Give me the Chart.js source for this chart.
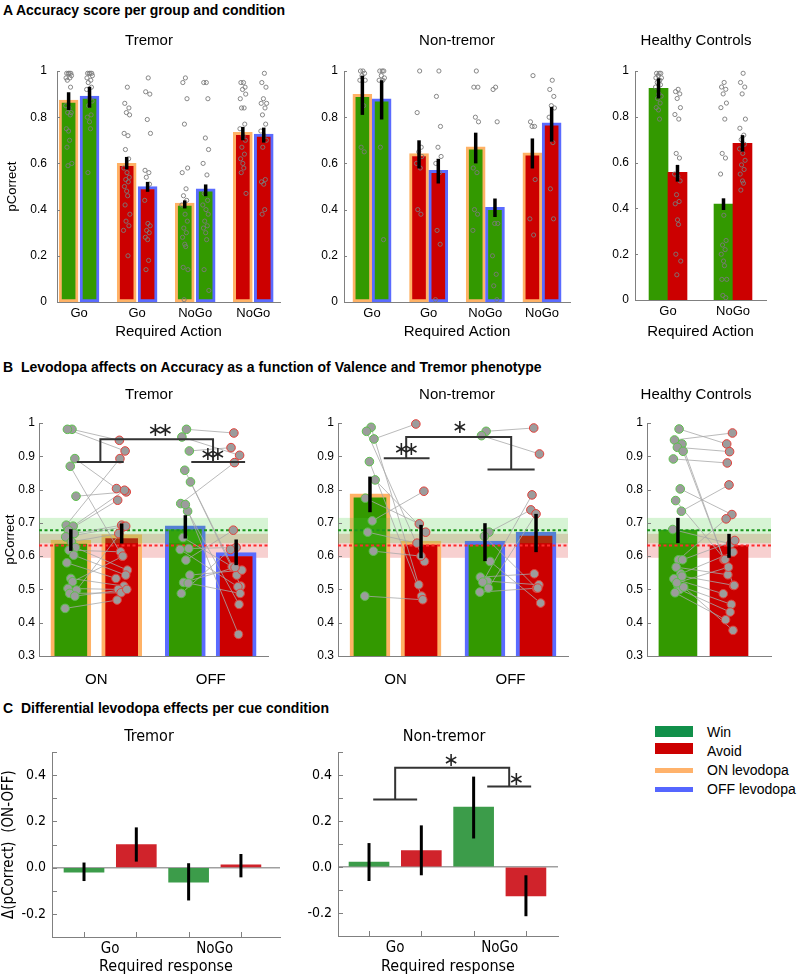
<!DOCTYPE html>
<html lang="en">
<head>
<meta charset="UTF-8">
<title>Accuracy per group and condition</title>
<script src="https://cdn.jsdelivr.net/npm/chart.js"></script>
<style>
  body { margin: 0; background: #fff; font-family: 'Liberation Sans', Arial, sans-serif; }
  #page { position: relative; width: 800px; height: 978px; overflow: hidden; background: #fff; }
  canvas { position: absolute; }
  .sec { position: absolute; left: 3px; font-weight: bold; font-size: 14px; line-height: 16px; white-space: pre; color: #000; }
  .sw { position: absolute; left: 655px; width: 38px; }
  .lt { position: absolute; left: 707px; font-size: 14px; line-height: 16px; color: #000; }
</style>
</head>
<body>
<div id="page">
  <div class="sec" style="top:2px">A Accuracy score per group and condition</div>
  <div class="sec" style="top:359px">B  Levodopa affects on Accuracy as a function of Valence and Tremor phenotype</div>
  <div class="sec" style="top:700px">C  Differential levodopa effects per cue condition</div>

  <canvas id="aTremor"></canvas>
  <canvas id="aNon"></canvas>
  <canvas id="aHC"></canvas>
  <canvas id="bTremor"></canvas>
  <canvas id="bNon"></canvas>
  <canvas id="bHC"></canvas>
  <canvas id="cTremor"></canvas>
  <canvas id="cNon"></canvas>

  <div class="sw" style="top:726px;height:11px;background:#11904a"></div>
  <div class="sw" style="top:743px;height:11px;background:#cc0000"></div>
  <div class="sw" style="top:768px;height:5px;background:#ffb26b"></div>
  <div class="sw" style="top:787px;height:5px;background:#5566ff"></div>
  <div class="lt" style="top:724px">Win</div>
  <div class="lt" style="top:743px">Avoid</div>
  <div class="lt" style="top:762px">ON levodopa</div>
  <div class="lt" style="top:781px">OFF levodopa</div>
</div>

<script>
// ---------- A: accuracy per group and condition ----------
const A_LABELS = ['Go', 'Go', 'NoGo', 'NoGo'];
const A_VALENCE = ['win', 'avoid', 'win', 'avoid'];
const A_HC_LABELS = ['Go', 'NoGo'];

const A_TREMOR_ON = [0.874, 0.600, 0.428, 0.734];
const A_TREMOR_ON_LO = [0.831, 0.574, 0.405, 0.700];
const A_TREMOR_ON_HI = [0.908, 0.628, 0.440, 0.758];
const A_TREMOR_OFF = [0.891, 0.500, 0.490, 0.727];
const A_TREMOR_OFF_LO = [0.841, 0.477, 0.458, 0.690];
const A_TREMOR_OFF_HI = [0.932, 0.520, 0.509, 0.755];

const A_NON_ON = [0.899, 0.643, 0.672, 0.646];
const A_NON_ON_LO = [0.810, 0.578, 0.600, 0.578];
const A_NON_ON_HI = [0.980, 0.700, 0.733, 0.708];
const A_NON_OFF = [0.879, 0.570, 0.410, 0.776];
const A_NON_OFF_LO = [0.790, 0.513, 0.368, 0.694];
const A_NON_OFF_HI = [0.960, 0.620, 0.448, 0.845];

const A_HC_WIN = [0.924, 0.419];
const A_HC_WIN_LO = [0.880, 0.393];
const A_HC_WIN_HI = [0.968, 0.444];
const A_HC_AVOID = [0.557, 0.684];
const A_HC_AVOID_LO = [0.517, 0.648];
const A_HC_AVOID_HI = [0.590, 0.720];

// individual subjects (one list per bar)
const A_TREMOR_ON_SUBJ = [
  [0.99,0.99,0.99,0.99,0.98,0.97,0.97,0.96,0.93,0.85,0.84,0.82,0.82,0.81,0.75,0.74,0.70,0.67,0.60,0.59],
  [0.93,0.86,0.84,0.82,0.81,0.73,0.72,0.66,0.62,0.58,0.56,0.54,0.53,0.52,0.50,0.48,0.46,0.42,0.38,0.35,0.33,0.31,0.20],
  [0.97,0.95,0.88,0.77,0.58,0.56,0.49,0.46,0.44,0.42,0.38,0.35,0.32,0.30,0.28,0.25,0.24,0.15,0.14,0.01],
  [0.95,0.95,0.93,0.92,0.90,0.88,0.84,0.84,0.77,0.75,0.72,0.70,0.67,0.64,0.62,0.60,0.58,0.56,0.47]
];
const A_TREMOR_OFF_SUBJ = [
  [0.99,0.99,0.99,0.99,0.98,0.97,0.96,0.95,0.93,0.92,0.88,0.87,0.85,0.81,0.80,0.78,0.75,0.56],
  [0.97,0.91,0.90,0.79,0.73,0.57,0.56,0.54,0.51,0.44,0.34,0.33,0.31,0.30,0.28,0.27,0.18,0.14],
  [0.95,0.95,0.88,0.71,0.66,0.60,0.55,0.47,0.44,0.42,0.40,0.38,0.35,0.33,0.32,0.30,0.27,0.14,0.05],
  [0.99,0.95,0.93,0.88,0.86,0.86,0.84,0.81,0.77,0.74,0.72,0.70,0.67,0.53,0.52,0.51,0.40,0.38]
];
const A_NON_ON_SUBJ = [
  [1.0,1.0,0.99,0.98,0.96,0.96,0.85,0.67,0.65],
  [1.0,0.82,0.67,0.65,0.63,0.60,0.58,0.40,0.38],
  [1.0,0.93,0.93,0.80,0.78,0.58,0.56,0.40,0.38,0.31],
  [0.98,0.78,0.76,0.76,0.53,0.36,0.29]
];
const A_NON_OFF_SUBJ = [
  [1.0,1.0,1.0,0.98,0.97,0.96,0.96,0.67,0.27],
  [1.0,0.89,0.76,0.67,0.63,0.60,0.56,0.31,0.25,0.01],
  [0.93,0.92,0.78,0.34,0.34,0.20,0.12,0.07,0.01],
  [0.96,0.92,0.89,0.85,0.84,0.80,0.69,0.49,0.36]
];
const A_HC_WIN_SUBJ = [
  [0.99,0.99,0.99,0.98,0.97,0.97,0.96,0.95,0.94,0.93,0.90,0.89,0.88,0.86,0.84,0.83,0.79],
  [0.95,0.93,0.92,0.90,0.86,0.84,0.79,0.64,0.62,0.55,0.37,0.26,0.24,0.22,0.20,0.17,0.15,0.09,0.09,0.02,0.01]
];
const A_HC_AVOID_SUBJ = [
  [0.92,0.91,0.90,0.88,0.84,0.81,0.79,0.64,0.62,0.55,0.54,0.52,0.46,0.43,0.42,0.35,0.33,0.20,0.17,0.11],
  [0.99,0.95,0.93,0.90,0.79,0.75,0.72,0.70,0.68,0.66,0.64,0.61,0.59,0.57,0.55,0.52,0.51,0.48]
];

// ---------- B: levodopa x valence (ON, OFF) ----------
const B_LABELS = ['ON', 'OFF'];
const B_TREMOR_WIN = [0.648, 0.691];
const B_TREMOR_WIN_LO = [0.616, 0.653];
const B_TREMOR_WIN_HI = [0.681, 0.723];
const B_TREMOR_AVOID = [0.665, 0.611];
const B_TREMOR_AVOID_LO = [0.638, 0.573];
const B_TREMOR_AVOID_HI = [0.698, 0.650];

const B_NON_WIN = [0.787, 0.645];
const B_NON_WIN_LO = [0.732, 0.585];
const B_NON_WIN_HI = [0.839, 0.699];
const B_NON_AVOID = [0.645, 0.672];
const B_NON_AVOID_LO = [0.594, 0.612];
const B_NON_AVOID_HI = [0.694, 0.727];

const B_HC_WIN = 0.678, B_HC_WIN_LO = 0.639, B_HC_WIN_HI = 0.715;
const B_HC_AVOID = 0.632, B_HC_AVOID_LO = 0.595, B_HC_AVOID_HI = 0.667;

// paired subjects: win[i] <-> avoid[i]
const B_TREMOR_ON_WIN_SUBJ   = [0.981,0.981,0.893,0.870,0.780,0.693,0.690,0.678,0.668,0.658,0.643,0.626,0.618,0.603,0.580,0.533,0.523,0.503,0.498,0.488,0.480,0.443];
const B_TREMOR_ON_AVOID_SUBJ = [0.948,0.916,0.803,0.600,0.793,0.893,0.798,0.768,0.693,0.688,0.668,0.558,0.613,0.543,0.533,0.510,0.600,0.500,0.690,0.490,0.500,0.468];
const B_TREMOR_OFF_WIN_SUBJ   = [0.981,0.958,0.916,0.858,0.823,0.758,0.735,0.656,0.623,0.620,0.588,0.543,0.521,0.519,0.488,0.755];
const B_TREMOR_OFF_AVOID_SUBJ = [0.970,0.903,0.926,0.543,0.510,0.881,0.455,0.568,0.626,0.508,0.678,0.558,0.566,0.488,0.620,0.365];
const B_NON_ON_WIN_SUBJ   = [0.987,0.975,0.952,0.884,0.829,0.774,0.706,0.672,0.615,0.480];
const B_NON_ON_AVOID_SUBJ = [0.514,0.584,0.997,0.480,0.672,0.697,0.795,0.639,0.600,0.469];
const B_NON_OFF_WIN_SUBJ   = [0.975,0.962,0.672,0.660,0.584,0.537,0.525,0.522,0.504,0.492];
const B_NON_OFF_AVOID_SUBJ = [0.985,0.907,0.739,0.504,0.459,0.547,0.514,0.784,0.727,0.504];
const B_HC_WIN_SUBJ   = [0.982,0.949,0.937,0.927,0.915,0.892,0.802,0.767,0.735,0.680,0.589,0.589,0.567,0.547,0.532,0.512,0.500,0.490,0.507,0.520,0.540];
const B_HC_AVOID_SUBJ = [0.937,0.970,0.590,0.914,0.512,0.880,0.725,0.590,0.814,0.637,0.712,0.647,0.544,0.612,0.487,0.455,0.432,0.409,0.377,0.567,0.512];

// ---------- C: ON-OFF difference ----------
const C_LABELS = ['Go', 'NoGo'];
const C_VALENCE = ['win', 'avoid', 'win', 'avoid'];
const C_TREMOR = [-0.020, 0.100, -0.063, 0.012];
const C_TREMOR_LO = [-0.058, 0.026, -0.142, -0.042];
const C_TREMOR_HI = [0.022, 0.174, 0.019, 0.059];
const C_NON = [0.021, 0.071, 0.260, -0.126];
const C_NON_LO = [-0.061, -0.036, 0.124, -0.214];
const C_NON_HI = [0.104, 0.181, 0.393, -0.036];

// tick values
const A_Y_TICKS = [0, 0.2, 0.4, 0.6, 0.8, 1];
const B_Y_TICKS = [0.3, 0.4, 0.5, 0.6, 0.7, 0.8, 0.9, 1];
const C_Y_TICKS = [-0.2, 0, 0.2, 0.4];
const C_Y_MINOR = [-0.3, -0.2, -0.1, 0, 0.1, 0.2, 0.3, 0.4, 0.5];

// ---------- styles ----------
const GREEN = '#339900', RED = '#cc0000', ORANGE = '#ffb266', BLUE = '#5a6bff';
const C_GREEN = '#3c9c4a', C_RED = '#d0232b';
const AXIS = '#808080';
const VCOL = { win: GREEN, avoid: RED };
const CCOL = { win: C_GREEN, avoid: C_RED };
const SANS = "'Liberation Sans', Arial, sans-serif";
const NARROW = "'Liberation Sans Narrow', 'Liberation Sans', Arial, sans-serif";
const TAHOMA = "'DejaVu Sans Condensed', 'DejaVu Sans', sans-serif";
const JIT = [0.2,-0.6,0.7,-0.1,0.9,-0.8,0.4,-0.4,0.6,-0.9,0.1,0.8,-0.3,0.5,-0.7,0,0.3,-0.5,1,-0.2,0.7,-1,0.4];

// chart area of each panel in page pixels + room for axes
const GEO = {
  aTremor: { L: 57, R: 280, T: 71, B: 302, yw: 57, tp: 45, xh: 45, rp: 12 },
  aNon:    { L: 344, R: 570, T: 71, B: 302, yw: 50, tp: 45, xh: 45, rp: 12 },
  aHC:     { L: 635, R: 766, T: 71, B: 300, yw: 50, tp: 45, xh: 47, rp: 14 },
  bTremor: { L: 39, R: 268, T: 423, B: 656, yw: 39, tp: 42, xh: 40, rp: 12 },
  bNon:    { L: 338, R: 568, T: 423, B: 656, yw: 40, tp: 42, xh: 40, rp: 12 },
  bHC:     { L: 647, R: 771, T: 423, B: 656, yw: 40, tp: 42, xh: 40, rp: 12 },
  cTremor: { L: 52, R: 280, T: 752, B: 937, yw: 52, tp: 28, xh: 40, rp: 8 },
  cNon:    { L: 338, R: 558, T: 752, B: 936, yw: 45, tp: 28, xh: 41, rp: 8 }
};

// ---------- drawing extras (error bars, bands, brackets...) ----------
function drawBand(chart, b) {
  const { ctx, chartArea: ca } = chart, Y = chart.scales.y;
  const y1 = Y.getPixelForValue(b.hi), y2 = Y.getPixelForValue(b.lo);
  ctx.save(); ctx.fillStyle = b.color; ctx.fillRect(ca.left, y1, ca.right - ca.left, y2 - y1); ctx.restore();
}
function drawRef(chart, l) {
  const { ctx, chartArea: ca } = chart, y = chart.scales.y.getPixelForValue(l.y);
  ctx.save(); ctx.strokeStyle = l.color; ctx.lineWidth = 2; ctx.setLineDash([3, 2.5]);
  ctx.beginPath(); ctx.moveTo(ca.left, y); ctx.lineTo(ca.right, y); ctx.stroke(); ctx.restore();
}

const overlay = {
  id: 'overlay',
  beforeDatasetsDraw(chart) {
    const o = chart.canvas.overlay || {};
    (o.bands || []).filter(b => b.under).forEach(b => drawBand(chart, b));
  },
  afterDatasetDraw(chart, args) {
    if (args.meta.type !== 'bar') return;
    const o = chart.canvas.overlay || {};
    (o.bands || []).filter(b => !b.under).forEach(b => drawBand(chart, b));
    (o.refLines || []).forEach(l => drawRef(chart, l));
  },
  afterDatasetsDraw(chart) {
    const o = chart.canvas.overlay || {};
    const ctx = chart.ctx, X = chart.scales.x, Y = chart.scales.y, ca = chart.chartArea;
    ctx.save();
    if (o.ticksIn) {
      ctx.strokeStyle = AXIS; ctx.lineWidth = 1;
      (o.ticksIn.y || []).forEach(v => {
        const y = Math.round(Y.getPixelForValue(v)) + 0.5;
        ctx.beginPath(); ctx.moveTo(ca.left, y); ctx.lineTo(ca.left + o.ticksIn.len, y); ctx.stroke();
      });
      (o.ticksIn.x || []).forEach(v => {
        const x = Math.round(X.getPixelForValue(v)) + 0.5;
        ctx.beginPath(); ctx.moveTo(x, ca.bottom); ctx.lineTo(x, ca.bottom - o.ticksIn.len); ctx.stroke();
      });
    }
    if (o.err) {
      ctx.strokeStyle = '#000'; ctx.lineWidth = o.err.width;
      o.err.pts.forEach(p => {
        const x = X.getPixelForValue(p.x);
        ctx.beginPath(); ctx.moveTo(x, Y.getPixelForValue(p.lo)); ctx.lineTo(x, Y.getPixelForValue(p.hi)); ctx.stroke();
      });
    }
    if (o.brackets) {
      ctx.strokeStyle = '#333'; ctx.lineWidth = 2;
      o.brackets.forEach(path => {
        ctx.beginPath();
        path.forEach((p, i) => {
          const x = X.getPixelForValue(p[0]), y = Y.getPixelForValue(p[1]);
          if (i) ctx.lineTo(x, y); else ctx.moveTo(x, y);
        });
        ctx.stroke();
      });
    }
    if (o.stars) {
      ctx.fillStyle = '#222'; ctx.font = "19px 'DejaVu Sans', sans-serif";
      ctx.textAlign = 'center'; ctx.textBaseline = 'middle';
      o.stars.forEach(s => {
        const x = X.getPixelForValue(s.x), y = Y.getPixelForValue(s.y);
        for (let k = 0; k < s.n; k++) ctx.fillText('\u2217', x + (k - (s.n - 1) / 2) * 10, y);
      });
    }
    ctx.restore();
  },
  afterDraw(chart) {
    const o = chart.canvas.overlay || {};
    if (!o.subtitle) return;
    const ctx = chart.ctx, ca = chart.chartArea, s = o.subtitle;
    ctx.save(); ctx.fillStyle = '#000'; ctx.font = s.font;
    ctx.textAlign = 'center'; ctx.textBaseline = 'middle';
    ctx.fillText(s.text, ca.left + s.dx, ca.top - s.dy);
    ctx.restore();
  }
};
Chart.register(overlay);

function makeChart(id, g, s) {
  const cv = document.getElementById(id);
  const w = g.R - g.L + g.yw + g.rp;
  const h = g.B - g.T + g.tp + g.xh;
  cv.width = w; cv.height = h;
  Object.assign(cv.style, { left: (g.L - g.yw) + 'px', top: (g.T - g.tp) + 'px', width: w + 'px', height: h + 'px' });
  cv.overlay = s.overlay || {};
  const x = s.x, y = s.y;
  return new Chart(cv, {
    type: 'bar',
    data: { datasets: s.datasets },
    options: {
      responsive: false, animation: false, devicePixelRatio: 1, events: [],
      layout: { padding: { left: 0, top: g.tp, right: g.rp, bottom: 0 } },
      plugins: { legend: { display: false }, tooltip: { enabled: false } },
      scales: {
        x: {
          type: 'linear', min: x.min, max: x.max, bounds: 'data', offset: false,
          afterFit: sc => { sc.height = g.xh; },
          afterBuildTicks: sc => { sc.ticks = x.ticks.map(v => ({ value: v })); },
          grid: { display: false, drawTicks: false, offset: false },
          border: { display: true, color: AXIS, width: 1 },
          ticks: { autoSkip: false, maxRotation: 0, padding: x.pad, color: '#000', font: x.font,
                   callback: (v, i) => x.labels[i] },
          title: { display: !!x.title, text: x.title || '', color: '#000', font: x.titleFont,
                   padding: { top: 0, bottom: x.titlePad || 0 } }
        },
        y: {
          type: 'linear', min: y.min, max: y.max, bounds: 'data',
          afterFit: sc => { sc.width = g.yw; },
          afterBuildTicks: sc => { sc.ticks = y.ticks.map(v => ({ value: v })); },
          grid: y.zeroLine
            ? { display: true, drawTicks: false, lineWidth: 1.5,
                color: c => (c.tick && c.tick.value === 0) ? '#a0a0a0' : 'rgba(0,0,0,0)' }
            : { display: false, drawTicks: false },
          border: { display: true, color: AXIS, width: 1 },
          ticks: { padding: y.pad, color: '#000', font: y.font, callback: v => y.fmt(v) },
          title: { display: !!y.title, text: y.title || '', color: '#000', font: y.titleFont,
                   padding: { top: y.titlePad || 0, bottom: 0 } }
        }
      }
    }
  });
}

// ---------- dataset helpers ----------
function barSet(list, thick, bw) {
  return {
    type: 'bar', order: 3, grouped: false, barThickness: thick, borderSkipped: false,
    data: list.map(b => ({ x: b.x, y: b.y })),
    backgroundColor: list.map(b => b.bg),
    borderColor: list.map(b => b.bd || b.bg),
    borderWidth: bw
  };
}
function openDots(list, spread) {
  const pts = [];
  list.forEach(b => b.subj.forEach((v, k) => pts.push({ x: b.x + JIT[k % JIT.length] * spread, y: v })));
  return { type: 'scatter', order: 1, clip: false, data: pts, pointRadius: 2.1, pointBorderWidth: 0.9,
           pointBorderColor: '#7a7a7a', pointBackgroundColor: 'rgba(255,255,255,0)' };
}
function pairedSets(xWin, xAvoid, win, avoid, spread) {
  const sets = [], wp = [], ap = [];
  win.forEach((w, i) => {
    const p1 = { x: xWin + JIT[i % JIT.length] * spread, y: w };
    const p2 = { x: xAvoid + JIT[(i + 7) % JIT.length] * spread, y: avoid[i] };
    wp.push(p1); ap.push(p2);
    sets.push({ type: 'line', order: 2, data: [{ ...p1 }, { ...p2 }], borderColor: '#a8a8a8',
                borderWidth: 0.8, pointRadius: 0, clip: false });
  });
  const dot = (pts, edge) => ({ type: 'scatter', order: 1, clip: false, data: pts, pointRadius: 4.3,
    pointBorderWidth: 1, pointBorderColor: edge, pointBackgroundColor: '#9c9c9c' });
  sets.push(dot(wp, '#5cc04c'), dot(ap, '#e2403a'));
  return sets;
}
const errPts = list => list.map(b => ({ x: b.x, lo: b.lo, hi: b.hi }));

// ---------- A panels ----------
function panelA(id, g, xr, off, thick, on, onLo, onHi, onSubj, offv, offLo, offHi, offSubj, title, dx, withY) {
  const list = [];
  A_LABELS.forEach((_, i) => {
    list.push({ x: i + 1 - off, y: on[i], lo: onLo[i], hi: onHi[i], bg: VCOL[A_VALENCE[i]], bd: ORANGE, subj: onSubj[i] });
    list.push({ x: i + 1 + off, y: offv[i], lo: offLo[i], hi: offHi[i], bg: VCOL[A_VALENCE[i]], bd: BLUE, subj: offSubj[i] });
  });
  makeChart(id, g, {
    datasets: [barSet(list, thick, 3), openDots(list, 0.055)],
    x: { min: xr[0], max: xr[1], ticks: [1, 2, 3, 4], labels: A_LABELS, pad: 4,
         font: { family: SANS, size: 13 }, title: 'Required Action', titleFont: { family: SANS, size: 15 }, titlePad: 6 },
    y: { min: 0, max: 1, ticks: A_Y_TICKS, fmt: v => String(+v.toFixed(1)), pad: withY ? 10 : 6,
         font: { family: SANS, size: 12 }, title: withY ? 'pCorrect' : '', titleFont: { family: SANS, size: 13 }, titlePad: 5 },
    overlay: { err: { width: 3.5, pts: errPts(list) }, ticksIn: { y: A_Y_TICKS, len: 3 },
               subtitle: { text: title, dx: dx, dy: 30, font: `15px ${SANS}` } }
  });
}
panelA('aTremor', GEO.aTremor, [0.62, 4.46], 0.18, 19,
  A_TREMOR_ON, A_TREMOR_ON_LO, A_TREMOR_ON_HI, A_TREMOR_ON_SUBJ,
  A_TREMOR_OFF, A_TREMOR_OFF_LO, A_TREMOR_OFF_HI, A_TREMOR_OFF_SUBJ, 'Tremor', 92, true);
panelA('aNon', GEO.aNon, [0.506, 4.494], 0.17, 19,
  A_NON_ON, A_NON_ON_LO, A_NON_ON_HI, A_NON_ON_SUBJ,
  A_NON_OFF, A_NON_OFF_LO, A_NON_OFF_HI, A_NON_OFF_SUBJ, 'Non-tremor', 113, false);

(function () {
  const list = [];
  A_HC_LABELS.forEach((_, i) => {
    list.push({ x: i + 1 - 0.146, y: A_HC_WIN[i], lo: A_HC_WIN_LO[i], hi: A_HC_WIN_HI[i], bg: GREEN, subj: A_HC_WIN_SUBJ[i] });
    list.push({ x: i + 1 + 0.146, y: A_HC_AVOID[i], lo: A_HC_AVOID_LO[i], hi: A_HC_AVOID_HI[i], bg: RED, subj: A_HC_AVOID_SUBJ[i] });
  });
  makeChart('aHC', GEO.aHC, {
    datasets: [barSet(list, 19, 0), openDots(list, 0.05)],
    x: { min: 0.492, max: 2.508, ticks: [1, 2], labels: A_HC_LABELS, pad: 4,
         font: { family: SANS, size: 13 }, title: 'Required Action', titleFont: { family: SANS, size: 15 }, titlePad: 6 },
    y: { min: 0, max: 1, ticks: A_Y_TICKS, fmt: v => String(+v.toFixed(1)), pad: 6, font: { family: SANS, size: 12 } },
    overlay: { err: { width: 3.5, pts: errPts(list) }, ticksIn: { y: A_Y_TICKS, len: 3 },
               subtitle: { text: 'Healthy Controls', dx: 61, dy: 30, font: `15px ${SANS}` } }
  });
})();

// ---------- B panels ----------
const HC_BANDS = [
  { lo: B_HC_AVOID_LO, hi: B_HC_AVOID_HI, color: 'rgba(222,60,60,0.24)', under: true },
  { lo: B_HC_WIN_LO, hi: B_HC_WIN_HI, color: 'rgba(70,205,60,0.22)', under: false }
];
const HC_REFS = [{ y: B_HC_WIN, color: '#1c961c' }, { y: B_HC_AVOID, color: '#ff2b2b' }];
const B_OFF = 0.222;

function panelB(id, g, win, winLo, winHi, avoid, avoidLo, avoidHi, subj, brackets, stars, title, dx, withY) {
  const list = [];
  B_LABELS.forEach((_, i) => {
    const bd = i === 0 ? ORANGE : BLUE;
    list.push({ x: i + 1 - B_OFF, y: win[i], lo: winLo[i], hi: winHi[i], bg: GREEN, bd });
    list.push({ x: i + 1 + B_OFF, y: avoid[i], lo: avoidLo[i], hi: avoidHi[i], bg: RED, bd });
  });
  const ds = [barSet(list, 40, 4)];
  subj.forEach((s, i) => ds.push(...pairedSets(i + 1 - B_OFF, i + 1 + B_OFF, s[0], s[1], 0.05)));
  makeChart(id, g, {
    datasets: ds,
    x: { min: 0.5, max: 2.5, ticks: [1, 2], labels: B_LABELS, pad: 15, font: { family: SANS, size: 15 } },
    y: { min: 0.3, max: 1, ticks: B_Y_TICKS, fmt: v => String(+v.toFixed(1)), pad: 4,
         font: { family: NARROW, size: 12 }, title: withY ? 'pCorrect' : '', titleFont: { family: SANS, size: 13 }, titlePad: 3 },
    overlay: { bands: HC_BANDS, refLines: HC_REFS, err: { width: 3.5, pts: errPts(list) },
               ticksIn: { y: B_Y_TICKS, len: 4 }, brackets, stars,
               subtitle: { text: title, dx: dx, dy: 28, font: `15px ${SANS}` } }
  });
}
panelB('bTremor', GEO.bTremor, B_TREMOR_WIN, B_TREMOR_WIN_LO, B_TREMOR_WIN_HI,
  B_TREMOR_AVOID, B_TREMOR_AVOID_LO, B_TREMOR_AVOID_HI,
  [[B_TREMOR_ON_WIN_SUBJ, B_TREMOR_ON_AVOID_SUBJ], [B_TREMOR_OFF_WIN_SUBJ, B_TREMOR_OFF_AVOID_SUBJ]],
  [[[0.83, 0.883], [1.24, 0.883]],
   [[1.036, 0.883], [1.036, 0.951], [2.02, 0.951], [2.02, 0.883]],
   [[1.83, 0.883], [2.30, 0.883]]],
  [{ x: 1.56, y: 0.976, n: 2 }, { x: 2.02, y: 0.904, n: 2 }], 'Tremor', 110, true);
panelB('bNon', GEO.bNon, B_NON_WIN, B_NON_WIN_LO, B_NON_WIN_HI,
  B_NON_AVOID, B_NON_AVOID_LO, B_NON_AVOID_HI,
  [[B_NON_ON_WIN_SUBJ, B_NON_ON_AVOID_SUBJ], [B_NON_OFF_WIN_SUBJ, B_NON_OFF_AVOID_SUBJ]],
  [[[0.898, 0.894], [1.296, 0.894]],
   [[1.093, 0.894], [1.093, 0.958], [2.006, 0.958], [2.006, 0.86]],
   [[1.80, 0.86], [2.21, 0.86]]],
  [{ x: 1.095, y: 0.92, n: 2 }, { x: 1.56, y: 0.984, n: 1 }], 'Non-tremor', 119, false);

(function () {
  const list = [
    { x: 1 - B_OFF, y: B_HC_WIN, lo: B_HC_WIN_LO, hi: B_HC_WIN_HI, bg: GREEN },
    { x: 1 + B_OFF, y: B_HC_AVOID, lo: B_HC_AVOID_LO, hi: B_HC_AVOID_HI, bg: RED }
  ];
  makeChart('bHC', GEO.bHC, {
    datasets: [barSet(list, 38, 0), ...pairedSets(1 - B_OFF, 1 + B_OFF, B_HC_WIN_SUBJ, B_HC_AVOID_SUBJ, 0.05)],
    x: { min: 0.509, max: 1.587, ticks: [], labels: [], pad: 6, font: { family: SANS, size: 15 } },
    y: { min: 0.3, max: 1, ticks: B_Y_TICKS, fmt: v => String(+v.toFixed(1)), pad: 4, font: { family: NARROW, size: 12 } },
    overlay: { bands: HC_BANDS, refLines: HC_REFS, err: { width: 3.5, pts: errPts(list) },
               ticksIn: { y: B_Y_TICKS, len: 4 },
               subtitle: { text: 'Healthy Controls', dx: 49, dy: 28, font: `15px ${SANS}` } }
  });
})();

// ---------- C panels ----------
function panelC(id, g, xr, vals, lo, hi, brackets, stars, title, dx, withY) {
  const list = vals.map((v, i) => ({ x: i + 1, y: v, lo: lo[i], hi: hi[i], bg: CCOL[C_VALENCE[i]] }));
  makeChart(id, g, {
    datasets: [barSet(list, 40, 0)],
    x: { min: xr[0], max: xr[1], ticks: [1.5, 3.5], labels: C_LABELS, pad: 3,
         font: { family: TAHOMA, size: 15 }, title: 'Required response', titleFont: { family: TAHOMA, size: 16 }, titlePad: 1 },
    y: { min: -0.3, max: 0.5, ticks: C_Y_TICKS, fmt: v => v.toFixed(1), pad: 6, zeroLine: true,
         font: { family: TAHOMA, size: 14 }, title: withY ? '\u0394(pCorrect)  (ON-OFF)' : '',
         titleFont: { family: TAHOMA, size: 15 }, titlePad: 0 },
    overlay: { err: { width: 3, pts: errPts(list) }, ticksIn: { y: C_Y_MINOR, x: [1, 2, 3, 4], len: 5 },
               brackets, stars, subtitle: { text: title, dx: dx, dy: 15, font: `16px ${TAHOMA}` } }
  });
}
panelC('cTremor', GEO.cTremor, [0.388, 4.747], C_TREMOR, C_TREMOR_LO, C_TREMOR_HI, null, null, 'Tremor', 97, true);
panelC('cNon', GEO.cNon, [0.407, 4.613], C_NON, C_NON_LO, C_NON_HI,
  [[[1.08, 0.293], [1.92, 0.293]],
   [[1.5, 0.293], [1.5, 0.431], [3.68, 0.431], [3.68, 0.35]],
   [[3.26, 0.35], [4.1, 0.35]]],
  [{ x: 2.57, y: 0.462, n: 1 }, { x: 3.82, y: 0.38, n: 1 }], 'Non-tremor', 106, false);
</script>
</body>
</html>
